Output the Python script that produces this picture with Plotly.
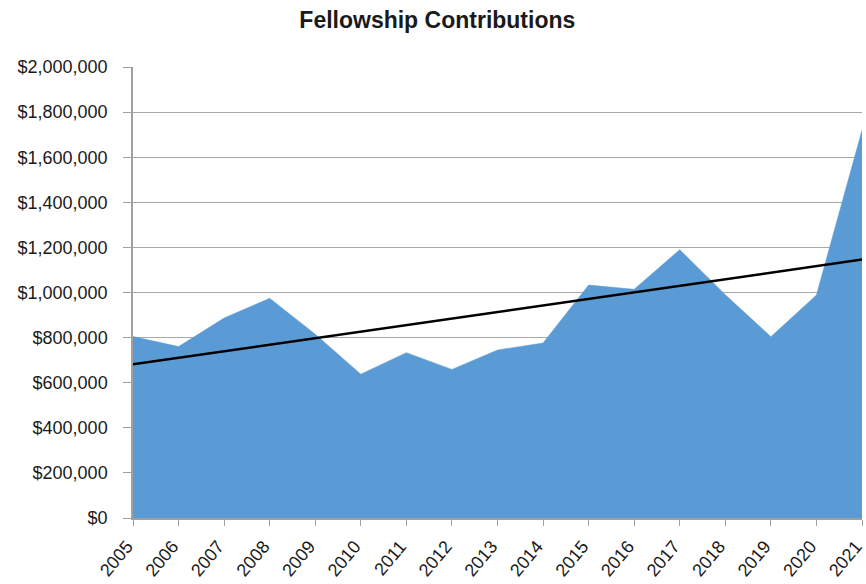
import numpy as np
import plotly.graph_objects as go

years = [2005, 2006, 2007, 2008, 2009, 2010, 2011, 2012, 2013, 2014,
         2015, 2016, 2017, 2018, 2019, 2020, 2021]
contributions = [805000, 760000, 887000, 974000, 815000, 638000, 733000, 659000,
                 745000, 776000, 1033000, 1014000, 1190000, 990000, 804000, 989000, 1720000]
y_ticks = [0, 200000, 400000, 600000, 800000, 1000000, 1200000, 1400000,
           1600000, 1800000, 2000000]
y_tick_labels = ["$0", "$200,000", "$400,000", "$600,000", "$800,000", "$1,000,000",
                 "$1,200,000", "$1,400,000", "$1,600,000", "$1,800,000", "$2,000,000"]
x_tick_labels = [str(y) for y in years]

# linear trendline from the data
coef = np.polyfit(years, contributions, 1)
trend = np.polyval(coef, years)

fig = go.Figure()
fig.add_trace(go.Scatter(
    x=years, y=contributions, mode="lines", fill="tozeroy",
    fillcolor="#5b9bd5", line=dict(color="#5b9bd5", width=0.5),
    hoverinfo="x+y", showlegend=False, cliponaxis=False))
fig.add_trace(go.Scatter(
    x=years, y=trend, mode="lines", line=dict(color="#000000", width=2.5),
    showlegend=False, cliponaxis=False))

font = "Liberation Sans, Arial, sans-serif"
W, H = 866, 584
fig.update_layout(
    width=W, height=H,
    margin=dict(l=133, r=4, t=67, b=66),
    paper_bgcolor="white", plot_bgcolor="white",
    title=dict(text="<b>Fellowship Contributions</b>", x=0.505, xanchor="center",
               y=1 - 20 / H, yanchor="middle", yref="container",
               font=dict(family=font, size=23, color="#1a1a1a")),
    font=dict(family=font, color="#1a1a1a"),
    xaxis=dict(range=[2005, 2021], tickmode="array", tickvals=years,
               ticktext=x_tick_labels, tickangle=-50,
               showgrid=False, showline=True, linecolor="#a0a0a0", linewidth=1.5,
               ticks="outside", ticklen=6, tickcolor="#a0a0a0",
               ticklabelstandoff=3, ticklabelshift=-6,
               automargin=False, ticklabeloverflow="allow",
               tickfont=dict(family=font, size=18, color="#1a1a1a"), zeroline=False),
    yaxis=dict(range=[0, 2000000], tickmode="array", tickvals=y_ticks,
               ticktext=y_tick_labels, showgrid=True, gridcolor="#a8a8a8", gridwidth=1.2,
               showline=True, linecolor="#a0a0a0", linewidth=1.5,
               ticks="outside", ticklen=8, tickcolor="#a0a0a0",
               ticklabelstandoff=12, automargin=False, ticklabeloverflow="allow",
               tickfont=dict(family=font, size=18, color="#1a1a1a"), zeroline=False),
)

fig.write_html("out.html", config={"displayModeBar": False},
               post_script="document.body.style.margin='0px';"
                           "document.body.style.overflow='hidden';")
